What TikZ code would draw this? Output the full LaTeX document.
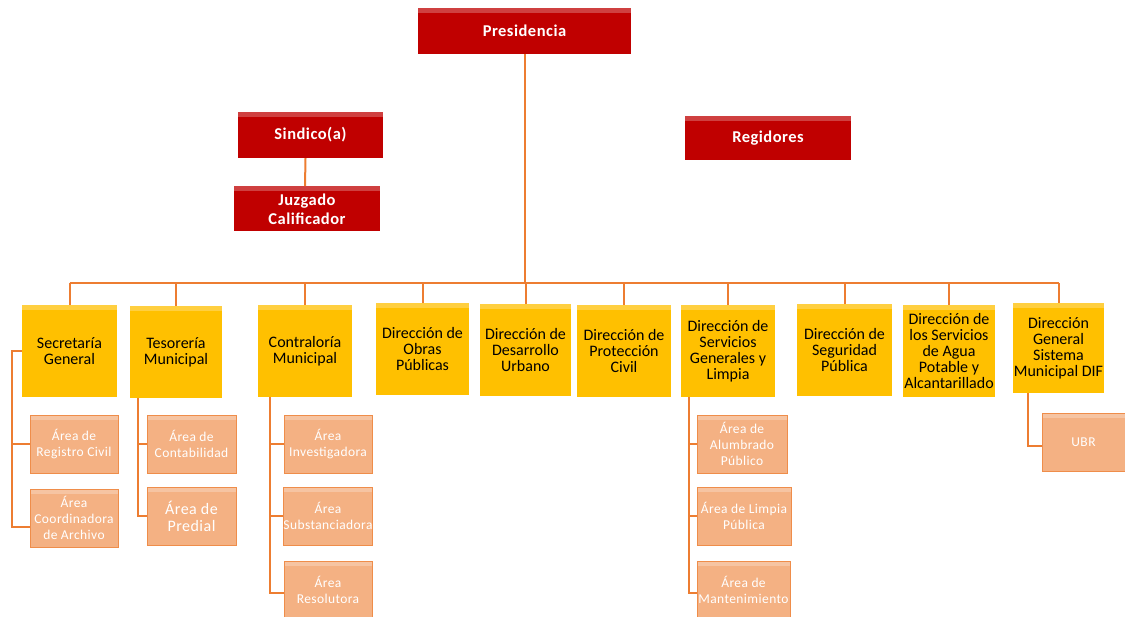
\documentclass[tikz,border=0pt]{standalone}
\usepackage{fontspec}
\setmainfont{Carlito}
\usetikzlibrary{positioning,calc}
\definecolor{rojo}{HTML}{C00000}
\definecolor{oro}{HTML}{FFC000}
\definecolor{salmon}{HTML}{F4B183}
\definecolor{naranja}{HTML}{ED7D31}

\begin{document}
\begin{tikzpicture}[
    x=1pt, y=-1pt,
    bevel/.style={path picture={\fill[white,opacity=.25] (path picture bounding box.north west) rectangle ([yshift=-5pt]path picture bounding box.north east);}},
    redbox/.style={rectangle, fill=rojo, inner sep=0pt, align=center, text=white, font=\bfseries\fontsize{16.5}{19}\selectfont\addfontfeature{LetterSpace=3}, bevel},
    goldbox/.style={rectangle, fill=oro, inner sep=0pt, minimum height=92pt, align=center, font=\fontsize{16}{16}\selectfont, bevel},
    areabox/.style={rectangle, fill=salmon, draw=naranja!70!salmon, inner sep=0pt, minimum height=58pt, align=center, text=white, font=\fontsize{13.5}{16}\selectfont\addfontfeature{LetterSpace=3}, bevel},
    link/.style={draw=naranja, line width=2pt}
]
    \useasboundingbox (0,0) rectangle (1125,617);

    % cabeza
    \node[redbox, minimum width=213pt, minimum height=46pt] (pres) at (524.5,31) {Presidencia};
    \node[redbox, minimum width=145pt, minimum height=46pt] (sind) at (310.5,135) {Sindico(a)};
    \node[redbox, minimum width=146pt, minimum height=45pt, below=28pt of sind.south, anchor=north, xshift=-3.5pt] (juz) {Juzgado\\Calificador};
    \node[redbox, minimum width=166pt, minimum height=44pt] (regi) at (768,138) {Regidores};

    \draw[link] ([xshift=-5pt]sind.south) -- ([xshift=-2pt]juz.north);

    % direcciones
    \node[goldbox, minimum width=95pt] (sec) at (69.5,351) {Secretaría\\General};
    \node[goldbox, minimum width=92pt] (tes) at (176,352) {Tesorería\\Municipal};
    \node[goldbox, minimum width=94pt] (con) at (305,351) {Contraloría\\Municipal};
    \node[goldbox, minimum width=93pt] (obr) at (422.5,349.5) {Dirección de\\Obras\\Públicas};
    \node[goldbox, minimum width=91pt] (des) at (525.5,350.5) {Dirección de\\Desarrollo\\Urbano};
    \node[goldbox, minimum width=94pt] (pro) at (624,351) {Dirección de\\Protección\\Civil};
    \node[goldbox, minimum width=94pt] (ser) at (728,351) {Dirección de\\Servicios\\Generales y\\Limpia};
    \node[goldbox, minimum width=95pt] (seg) at (844.5,350.5) {Dirección de\\Seguridad\\Pública};
    \node[goldbox, minimum width=92pt] (agu) at (949,351) {Dirección de\\los Servicios\\de Agua\\Potable y\\Alcantarillado};
    \node[goldbox, minimum width=91pt, minimum height=90pt] (dif) at (1058.5,348) {Dirección\\General\\Sistema\\Municipal DIF};

    \coordinate (bus) at (527,283);
    \draw[link] (pres.south) -- (pres.south |- bus);
    \draw[link] (sec.north |- bus) -- (dif.north |- bus);
    \foreach \d in {sec,tes,con,obr,des,pro,ser,seg,agu,dif}
        \draw[link] (\d.north) -- (\d.north |- bus);

    % areas
    \node[areabox, minimum width=88pt] (reg) at (74,444) {Área de\\Registro Civil};
    \node[areabox, minimum width=88pt] (arc) at (74,518) {Área\\Coordinadora\\de Archivo};
    \node[areabox, minimum width=89pt] (cont) at (191.5,444) {Área de\\Contabilidad};
    \node[areabox, minimum width=89pt, font=\fontsize{16}{17}\selectfont\addfontfeature{LetterSpace=3}] (pred) at (191.5,516) {Área de\\Predial};
    \node[areabox, minimum width=88pt] (inv) at (328,444) {Área\\Investigadora};
    \node[areabox, minimum width=88pt] (sub) at (328,516) {Área\\Substanciadora};
    \node[areabox, minimum width=88pt] (res) at (328,590) {Área\\Resolutora};
    \node[areabox, minimum width=90pt] (alu) at (742,444) {Área de\\Alumbrado\\Público};
    \node[areabox, minimum width=94pt] (lim) at (744,516) {Área de Limpia\\Pública};
    \node[areabox, minimum width=93pt] (man) at (743.5,590) {Área de\\Mantenimiento};
    \node[areabox, minimum width=83pt] (ubr) at (1083.5,442) {UBR};

    \draw[link] (sec.west) -- ++(-10,0) coordinate (secl) |- (reg.west);
    \draw[link] (secl) |- ([yshift=-9pt]arc.west);
    \draw[link] ([xshift=8pt]tes.south west) |- (cont.west);
    \draw[link] ([xshift=8pt]tes.south west) |- (pred.west);
    \draw[link] ([xshift=12pt]con.south west) |- (inv.west);
    \draw[link] ([xshift=12pt]con.south west) |- (sub.west);
    \draw[link] ([xshift=12pt]con.south west) |- ([yshift=-3pt]res.west);
    \draw[link] ([xshift=8pt]ser.south west) |- (alu.west);
    \draw[link] ([xshift=8pt]ser.south west) |- (lim.west);
    \draw[link] ([xshift=8pt]ser.south west) |- ([yshift=-3pt]man.west);
    \draw[link] ([xshift=15pt]dif.south west) |- ([yshift=-4pt]ubr.west);
\end{tikzpicture}
\end{document}
